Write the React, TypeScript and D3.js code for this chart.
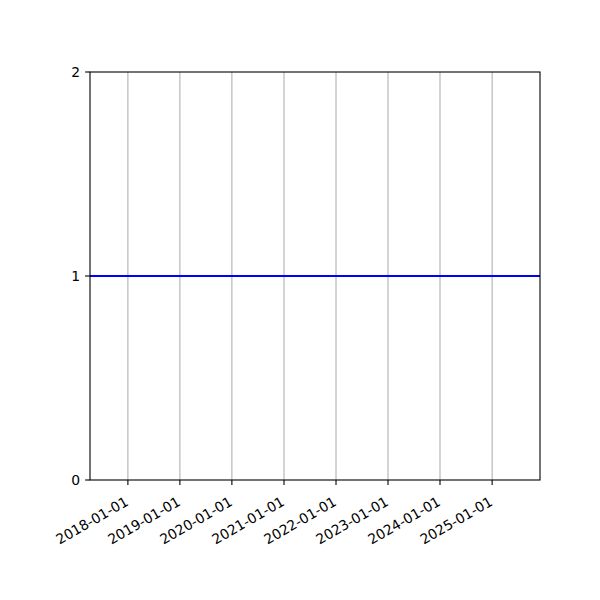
import { useEffect, useRef } from "react";
import * as d3 from "d3";

// data: a flat line at 1 across the whole range
const dates = ["2017-04-10", "2025-12-03"];
const values = [1, 1];
const xTicks = ["2018-01-01", "2019-01-01", "2020-01-01", "2021-01-01", "2022-01-01", "2023-01-01", "2024-01-01", "2025-01-01"];
const yTicks = [0, 1, 2];

export default function App() {
  const svgRef = useRef<SVGSVGElement>(null);

  useEffect(() => {
    if (!svgRef.current) return;
    const width = 600;
    const height = 600;
    const margin = { top: 72, right: 60, bottom: 120, left: 90 };
    const fs = 13.9;

    const svg = d3.select(svgRef.current);
    svg.selectAll("*").remove();

    const parse = d3.utcParse("%Y-%m-%d");
    const pts = dates.map((d, i) => ({ date: parse(d)!, value: values[i] }));

    const x = d3.scaleUtc()
      .domain(d3.extent(pts, d => d.date) as [Date, Date])
      .range([margin.left, width - margin.right]);

    const y = d3.scaleLinear()
      .domain([0, 2])
      .range([height - margin.bottom, margin.top]);

    const bottom = height - margin.bottom;

    // vertical grid
    svg.append("g")
      .selectAll("line")
      .data(xTicks)
      .join("line")
      .attr("x1", d => x(parse(d)!))
      .attr("x2", d => x(parse(d)!))
      .attr("y1", margin.top)
      .attr("y2", bottom)
      .attr("stroke", "#b0b0b0")
      .attr("stroke-width", 1.1);

    // the line
    const line = d3.line<{ date: Date; value: number }>()
      .x(d => x(d.date))
      .y(d => y(d.value));
    svg.append("path")
      .datum(pts)
      .attr("d", line)
      .attr("fill", "none")
      .attr("stroke", "#0000ff")
      .attr("stroke-width", 2.1);

    // frame
    svg.append("rect")
      .attr("x", margin.left)
      .attr("y", margin.top)
      .attr("width", width - margin.left - margin.right)
      .attr("height", bottom - margin.top)
      .attr("fill", "none")
      .attr("stroke", "#000")
      .attr("stroke-width", 1.1);

    // x ticks + rotated labels
    const xg = svg.append("g");
    xg.selectAll("line")
      .data(xTicks)
      .join("line")
      .attr("x1", d => x(parse(d)!))
      .attr("x2", d => x(parse(d)!))
      .attr("y1", bottom)
      .attr("y2", bottom + 4.9)
      .attr("stroke", "#000")
      .attr("stroke-width", 1.1);
    xg.selectAll("text")
      .data(xTicks)
      .join("text")
      .attr("transform", d => `translate(${x(parse(d)!) + 1.5},${bottom + 24.5})rotate(-30)`)
      .attr("text-anchor", "end")
      .attr("font-size", fs)
      .attr("font-family", "DejaVu Sans")
      .attr("fill", "#000")
      .text(d => d);

    // y ticks
    const yg = svg.append("g");
    yg.selectAll("line")
      .data(yTicks)
      .join("line")
      .attr("x1", margin.left - 4.9)
      .attr("x2", margin.left)
      .attr("y1", d => y(d))
      .attr("y2", d => y(d))
      .attr("stroke", "#000")
      .attr("stroke-width", 1.1);
    yg.selectAll("text")
      .data(yTicks)
      .join("text")
      .attr("x", margin.left - 9.8)
      .attr("y", d => y(d))
      .attr("dy", "0.35em")
      .attr("text-anchor", "end")
      .attr("font-size", fs)
      .attr("font-family", "DejaVu Sans")
      .attr("fill", "#000")
      .text(d => d);
  }, []);

  return (
    <div style={{ position: "absolute", left: 0, top: 0, width: 600, height: 600, background: "#fff" }}>
      <svg ref={svgRef} width={600} height={600} />
    </div>
  );
}
